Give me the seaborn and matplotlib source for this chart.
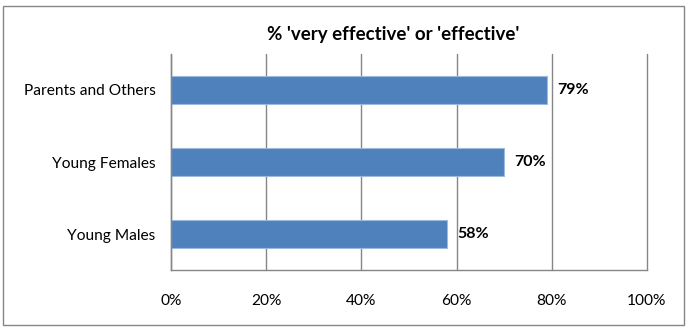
import matplotlib
matplotlib.use("Agg")
import matplotlib.pyplot as plt
from matplotlib.patches import Rectangle
from matplotlib.ticker import PercentFormatter
import seaborn as sns
import pandas as pd

categories = ["Parents and Others", "Young Females", "Young Males"]
values = [79, 70, 58]
x_ticks = [0, 20, 40, 60, 80, 100]
title = "% 'very effective' or 'effective'"

sns.set_style("white")
plt.rcParams["font.family"] = ["Lato", "DejaVu Sans"]
plt.rcParams["text.color"] = "black"
plt.rcParams["xtick.labelcolor"] = "black"
plt.rcParams["ytick.labelcolor"] = "black"

df = pd.DataFrame({"group": categories, "pct": values})

fig = plt.figure(figsize=(6.89, 3.31), dpi=100)
ax = fig.add_axes([0.248, 0.184, 0.691, 0.653])

sns.barplot(data=df, x="pct", y="group", orient="h", color="#4F81BD",
            saturation=1, width=0.4, edgecolor="#9DB9DC", linewidth=0.8, ax=ax)

ax.set_xlim(0, 100)
ax.set_ylim(2.5, -0.5)
ax.set_xticks(x_ticks)
ax.xaxis.set_major_formatter(PercentFormatter(decimals=0))
ax.set_xlabel("")
ax.set_ylabel("")

ax.grid(axis="x", color="#868686", linewidth=1)
for gl in ax.get_xgridlines():
    gl.set_clip_on(False)
ax.set_axisbelow(True)

for side in ["top", "right"]:
    ax.spines[side].set_visible(False)
for side in ["left", "bottom"]:
    ax.spines[side].set_color("#868686")
    ax.spines[side].set_linewidth(1)

# ticks on the category boundaries for y
ax.set_yticks([0, 1, 2])
ax.set_yticks([-0.5, 0.5, 1.5, 2.5], minor=True)
ax.tick_params(axis="y", which="major", length=0, pad=11, labelsize=11.2)
ax.tick_params(axis="y", which="minor", length=6, width=1, color="#868686", direction="out")
ax.tick_params(axis="x", which="major", length=5, width=1, color="#868686",
               direction="out", pad=12, labelsize=11.2)

for i, v in enumerate(values):
    ax.text(v + 2.1, i, f"{v}%", va="center", ha="left",
            fontsize=11.5, fontweight="bold")

fig.text(0.571, 0.897, title, ha="center", va="center",
         fontsize=13.5, fontweight="bold")

fig.patches.append(Rectangle((0.005, 0.018), 0.988, 0.965, transform=fig.transFigure,
                             fill=False, edgecolor="#868686", linewidth=1))

fig.savefig("out.png", dpi=100)
